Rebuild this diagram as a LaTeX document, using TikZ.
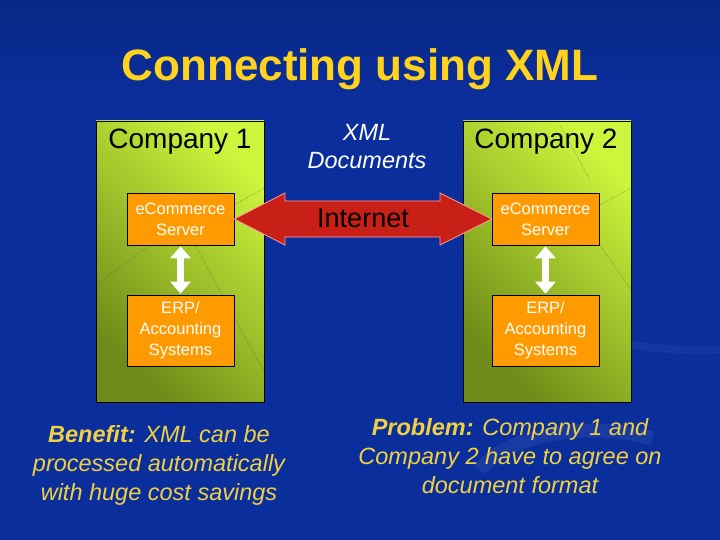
\documentclass[tikz,border=0pt]{standalone}
\usepackage{fontspec}
\setmainfont{Liberation Sans}
\usetikzlibrary{arrows.meta}
\definecolor{bg}{HTML}{0A2E9C}
\definecolor{ttl}{HTML}{FFD21E}
\definecolor{txt}{HTML}{F0D040}
\definecolor{org}{HTML}{FF9A00}
\definecolor{gdark}{HTML}{6E8A18}
\definecolor{glight}{HTML}{CCF53C}
\definecolor{red1}{HTML}{C82016}
\tikzset{
 company/.style={draw=black,line width=0.8pt,top color=glight,bottom color=gdark,shading angle=-45},
 srv/.style={draw=black,fill=org,line width=0.6pt,minimum width=107pt,text width=105pt,align=center,text=white,font=\fontsize{16.5}{21}\selectfont,inner sep=0pt},
 lbl/.style={font=\fontsize{28}{32}\selectfont,text=black},
 note/.style={text=txt,align=center,font=\fontsize{23.5}{29}\selectfont\itshape},
 varrow/.style={white,line width=7pt,{Triangle[width=20pt,length=12pt]}-{Triangle[width=20pt,length=12pt]},shorten >=1pt,shorten <=1pt},
}
\begin{document}
\begin{tikzpicture}[x=1pt,y=-1pt]
\useasboundingbox (0,0) rectangle (720,540);
\fill[bg] (0,0) rectangle (720,540);
\shade[top color=bg!85!black,bottom color=bg] (0,0) rectangle (720,100);
\draw[bg!80!white,line width=14pt,opacity=0.3] (480,470) arc[start angle=200,end angle=300,x radius=120,y radius=60];
\draw[bg!80!white,line width=8pt,opacity=0.2] (560,310) arc[start angle=180,end angle=60,x radius=140,y radius=40];
\node[font=\fontsize{44}{48}\selectfont\bfseries,text=ttl] (title) at (360,69) {Connecting using XML};
% companies
\path[company] (96,121) rectangle (264,402);
\path[company] (463,121) rectangle (631,402);
\draw[black!70,densely dotted,line width=0.4pt] (96,285) -- (150,245) (195,245) -- (264,372) (234,205) -- (264,188);
\draw[black!70,densely dotted,line width=0.4pt] (600,205) -- (631,188) (600,245) -- (631,290) (560,125) -- (590,180);
\node[lbl] (c1) at (180,142) {Company 1};
\node[lbl] (c2) at (546,142) {Company 2};
\node[text=white,align=center,font=\fontsize{23.5}{28}\selectfont\itshape] (xd) at (367,147) {XML\\Documents};
% servers
\node[srv,minimum height=52pt] (s1) at (180.5,219) {eCommerce\\Server};
\node[srv,minimum height=52pt] (s2) at (545.5,219) {eCommerce\\Server};
\node[srv,minimum height=71pt] (e1) at (180.5,330.5) {ERP/\\Accounting\\Systems};
\node[srv,minimum height=71pt] (e2) at (545.5,330.5) {ERP/\\Accounting\\Systems};
% internet arrow
\draw[red!40!white,line width=0.8pt,fill=red1] (s1.east) -- (285,193) -- (285,201) -- (440,201) -- (440,193) -- (s2.west) -- (440,245) -- (440,237) -- (285,237) -- (285,245) -- cycle;
\node[font=\fontsize{27}{30}\selectfont,text=black] (inet) at (363,218) {Internet};
% vertical arrows
\draw[varrow] (s1) -- (e1);
\draw[varrow] (s2) -- (e2);
% notes
\node[note] (n1) at (159,465) {{\bfseries Benefit:} XML can be\\processed automatically\\with huge cost savings};
\node[note] (n2) at (510,456) {{\bfseries Problem:} Company 1 and\\Company 2 have to agree on\\document format};
\end{tikzpicture}
\end{document}
